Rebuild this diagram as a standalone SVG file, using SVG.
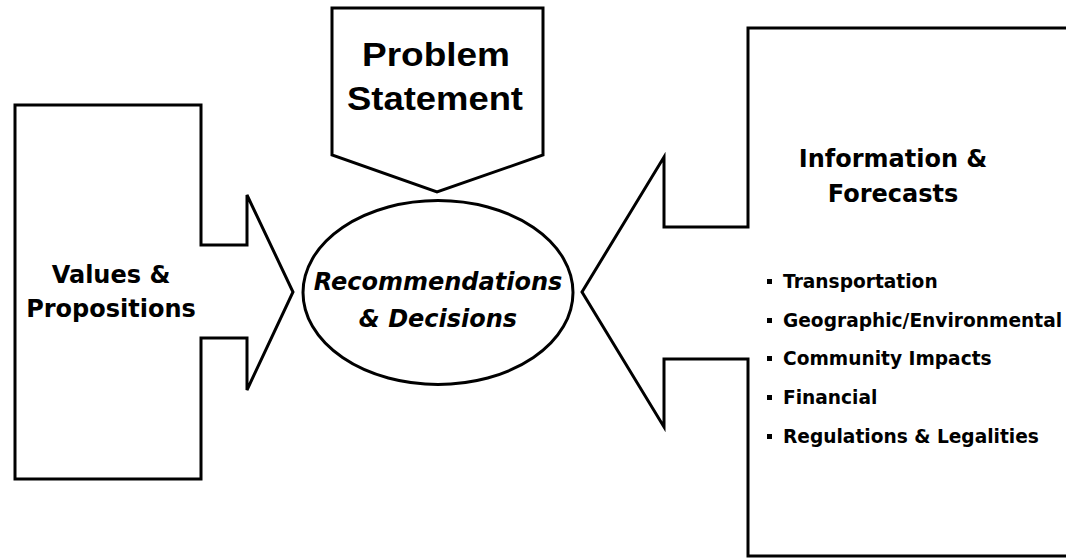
<svg xmlns="http://www.w3.org/2000/svg" width="1066" height="558" viewBox="0 0 1066 558">
<style>
.shape{fill:#fff;stroke:#000;stroke-width:3;stroke-linejoin:miter}
.wide{font-family:"DejaVu Sans","Liberation Sans",sans-serif;font-weight:bold;fill:#000}
.title{font-family:"Liberation Sans",Arial,sans-serif;font-weight:bold;fill:#000;font-size:33px}
.head{font-size:24px;text-anchor:middle}
.item{font-size:18.6px}
.center{font-size:24px;font-style:italic;text-anchor:middle}
</style>
<rect x="0" y="0" width="1066" height="558" fill="#fff"/>
<g id="connectors"></g>
<g id="values">
<polygon class="shape" points="15,105 201,105 201,245 247,245 247,195 293,292 247,390 247,338 201,338 201,479 15,479"/>
<text class="wide head" x="111" y="283">Values &amp;</text>
<text class="wide head" x="111" y="317">Propositions</text>
</g>
<g id="problem">
<polygon class="shape" points="332,8 543,8 543,155 437,192 332,155"/>
<text class="title" x="362" y="66" textLength="148" lengthAdjust="spacingAndGlyphs">Problem</text>
<text class="title" x="347" y="110" textLength="176" lengthAdjust="spacingAndGlyphs">Statement</text>
</g>
<g id="decision">
<ellipse class="shape" cx="438" cy="292.5" rx="135" ry="92" stroke-width="2.5"/>
<text class="wide center" x="438" y="290">Recommendations</text>
<text class="wide center" x="438" y="327">&amp; Decisions</text>
</g>
<g id="information">
<polygon class="shape" points="1075,28 748,28 748,227 664,227 664,157 582,292 664,427 664,359 748,359 748,556 1075,556"/>
<text class="wide head" x="893" y="167">Information &amp;</text>
<text class="wide head" x="893" y="202">Forecasts</text>
<g class="wide item">
<rect x="767" y="279" width="5" height="5"/>
<text x="783" y="288">Transportation</text>
<rect x="767" y="318" width="5" height="5"/>
<text x="783" y="327">Geographic/Environmental</text>
<rect x="767" y="356" width="5" height="5"/>
<text x="783" y="365">Community Impacts</text>
<rect x="767" y="395" width="5" height="5"/>
<text x="783" y="404">Financial</text>
<rect x="767" y="434" width="5" height="5"/>
<text x="783" y="443">Regulations &amp; Legalities</text>
</g>
</g>
</svg>
